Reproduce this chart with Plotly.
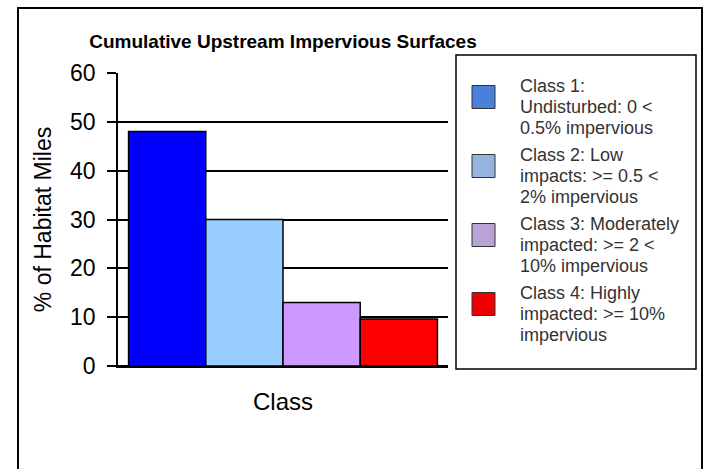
import plotly.graph_objects as go

# ---- data ----
categories = ["Class"]
series_names = ["Class 1", "Class 2", "Class 3", "Class 4"]
values = [48, 30, 13, 9.6]
bar_colors = ["#0000ff", "#99ccff", "#cc99ff", "#ff0000"]
legend_colors = ["#4a80d9", "#94b4dd", "#b9a2d6", "#ee0000"]
legend_lines = [
    ["Class 1:", "Undisturbed: 0 &lt;", "0.5% impervious"],
    ["Class 2: Low", "impacts: &gt;= 0.5 &lt;", "2% impervious"],
    ["Class 3: Moderately", "impacted: &gt;= 2 &lt;", "10% impervious"],
    ["Class 4: Highly", "impacted: &gt;= 10%", "impervious"],
]
y_ticks = [0, 10, 20, 30, 40, 50, 60]
title = "Cumulative Upstream Impervious Surfaces"
y_title = "% of Habitat Miles"

FONT = "Liberation Sans, Arial, sans-serif"

fig = go.Figure()
for name, v, c in zip(series_names, values, bar_colors):
    fig.add_trace(go.Bar(
        x=categories, y=[v], name=name,
        marker=dict(color=c, line=dict(color="black", width=1.5)),
        showlegend=False,
    ))

# plot-area pixel geometry (for paper conversion of layout decorations)
L, R, T, B = 118, 448, 73, 366
W, H = R - L, B - T

def px(x):
    return (x - L) / W

def py(y):
    return (B - y) / H

shapes = [
    # outer frame
    dict(type="rect", xref="paper", yref="paper",
         x0=px(18), x1=px(702), y0=py(480), y1=py(8),
         line=dict(color="black", width=2), fillcolor="rgba(0,0,0,0)", layer="below"),
    # legend box
    dict(type="rect", xref="paper", yref="paper",
         x0=px(456), x1=px(696), y0=py(369), y1=py(55),
         line=dict(color="black", width=1.5), fillcolor="white"),
]
annotations = []
for i, (lines, col) in enumerate(zip(legend_lines, legend_colors)):
    cy = 97 + 69 * i
    shapes.append(dict(type="rect", xref="paper", yref="paper",
                       x0=px(472), x1=px(495), y0=py(cy + 11.5), y1=py(cy - 11.5),
                       line=dict(color="#333333", width=1), fillcolor=col))
    for j, line in enumerate(lines):
        annotations.append(dict(
            xref="paper", yref="paper", x=px(518), y=py(cy - 11 + 21 * j),
            xanchor="left", yanchor="middle", align="left", showarrow=False,
            text=line, font=dict(family=FONT, size=18, color="#333333"),
        ))

fig.update_layout(
    width=704, height=469,
    margin=dict(l=L, r=704 - R, t=T, b=469 - B),
    paper_bgcolor="white", plot_bgcolor="white",
    barmode="group", bargap=0.064, bargroupgap=0,
    title=dict(text=f"<b>{title}</b>", x=px(283), xref="paper", xanchor="center",
               y=1 - 41 / 469, yanchor="middle",
               font=dict(family=FONT, size=19, color="black")),
    font=dict(family=FONT, color="black"),
    shapes=shapes, annotations=annotations,
    xaxis=dict(type="category", range=[-0.5, 0.5], showgrid=False,
               showline=True, linecolor="black", linewidth=1.5,
               ticks="", tickfont=dict(size=24, color="black"),
               ticklabelstandoff=13),
    yaxis=dict(range=[0, 60], tickvals=y_ticks, showgrid=True,
               gridcolor="black", gridwidth=1.5,
               zeroline=True, zerolinecolor="black", zerolinewidth=1.5,
               showline=True, linecolor="black", linewidth=1.5,
               ticks="outside", ticklen=9, tickwidth=1.5, tickcolor="black",
               tickfont=dict(size=23, color="black"), ticklabelstandoff=7,
               title=dict(text=y_title, font=dict(size=23, color="black"), standoff=12)),
)

fig.write_html("out.html", config={"displayModeBar": False},
               post_script="document.body.style.margin='0';")
